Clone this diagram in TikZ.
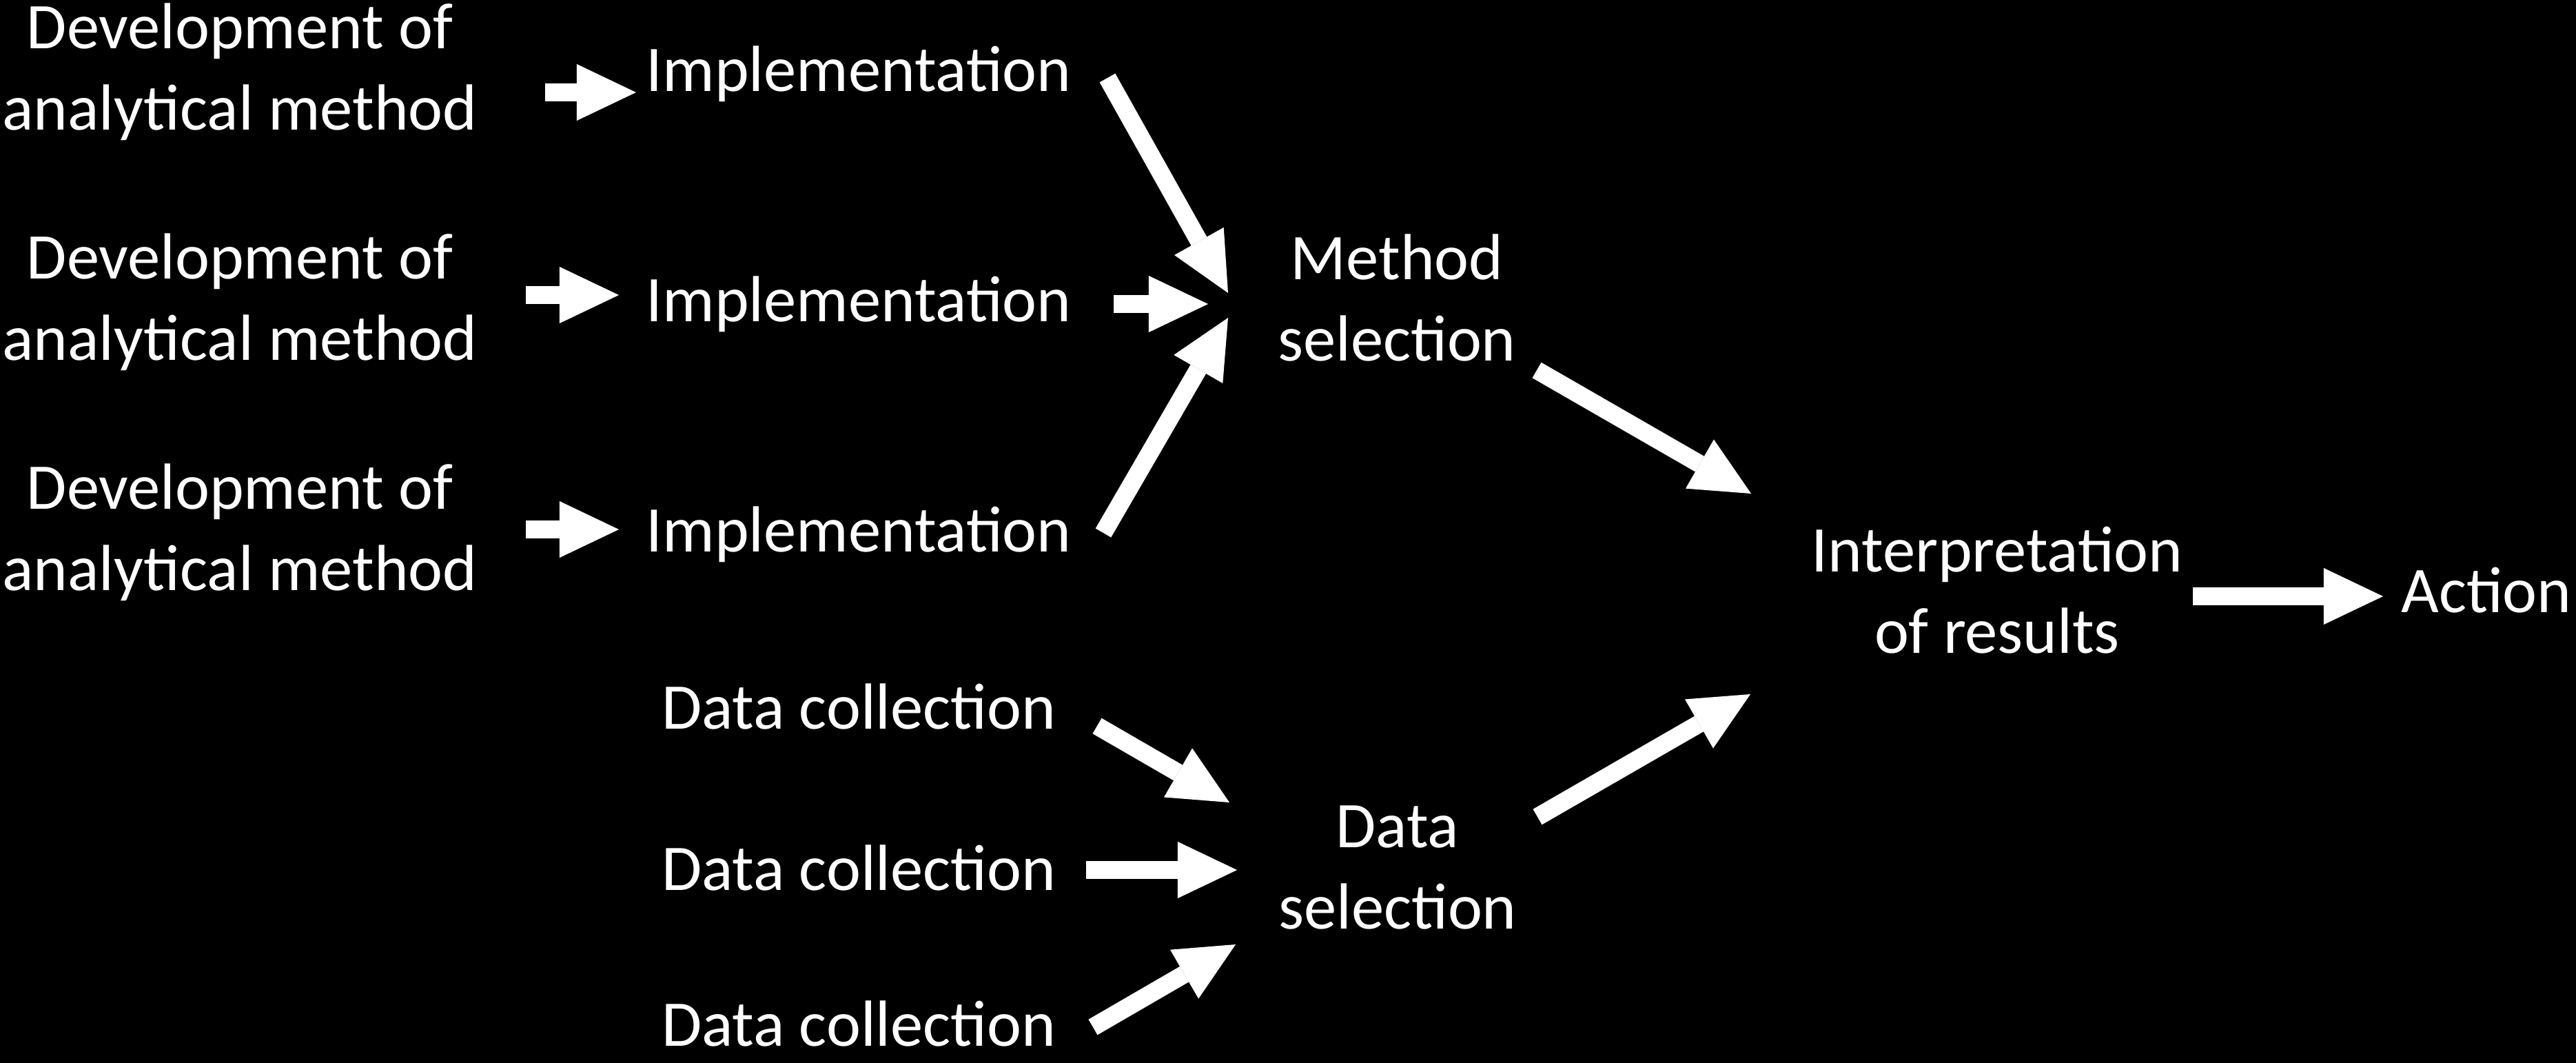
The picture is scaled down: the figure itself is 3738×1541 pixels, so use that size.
\documentclass[tikz,border=0pt]{standalone}
\usepackage{fontspec}
\setmainfont{Carlito}
\usetikzlibrary{arrows.meta}
\begin{document}
\begin{tikzpicture}[x=0.01cm,y=-0.01cm,
  lbl/.style={text=white, inner sep=0pt, font=\fontsize{26.9pt}{33.6pt}\selectfont},
  one/.style={lbl, anchor=base},
  two/.style={lbl, align=center, anchor=center},
  blk/.style={draw=white, line width=0.26cm, line cap=butt,
    -{Triangle[width=0.82cm,length=0.86cm,line width=0pt]}}]
% canvas
\useasboundingbox (0,0) rectangle (3738,1541);
\fill[black] (-20,-20) rectangle (3758,1561);

% method branch
\node[two] (dev1) at (348,106) {\strut Development of\\\strut analytical method};
\node[two] (dev2) at (348,440) {\strut Development of\\\strut analytical method};
\node[two] (dev3) at (348,774) {\strut Development of\\\strut analytical method};
\node[one] (impl1) at (1246,132) {Implementation};
\node[one] (impl2) at (1246,466) {Implementation};
\node[one] (impl3) at (1246,800) {Implementation};
\node[two] (msel) at (2027,441) {\strut Method\\\strut selection};

% data branch
\node[one] (dc1) at (1246,1057) {Data collection};
\node[one] (dc2) at (1246,1291) {Data collection};
\node[one] (dc3) at (1246,1517) {Data collection};
\node[two] (dsel) at (2028,1265) {\strut Data\\\strut selection};

% outcome
\node[two] (interp) at (2898,865) {\strut Interpretation\\\strut of results};
\node[one] (action) at (3608,888) {Action};

% arrow end points
\coordinate (dev1-o) at (791,134);   \coordinate (impl1-i) at (923,134);
\coordinate (dev2-o) at (763,428);   \coordinate (impl2-i) at (898,428);
\coordinate (dev3-o) at (763,768);   \coordinate (impl3-i) at (898,768);
\coordinate (impl1-o) at (1607,113); \coordinate (msel-i1) at (1782,425);
\coordinate (impl2-o) at (1616,441); \coordinate (msel-i2) at (1753,441);
\coordinate (impl3-o) at (1601,773); \coordinate (msel-i3) at (1782,461);
\coordinate (msel-o) at (2230,537);  \coordinate (interp-i1) at (2541,716);
\coordinate (dc1-o) at (1592,1053);  \coordinate (dsel-i1) at (1784,1164);
\coordinate (dc2-o) at (1576,1262);  \coordinate (dsel-i2) at (1795,1262);
\coordinate (dc3-o) at (1586,1490);  \coordinate (dsel-i3) at (1793,1370);
\coordinate (dsel-o) at (2231,1185); \coordinate (interp-i2) at (2540,1007);
\coordinate (interp-o) at (3182,865); \coordinate (action-i) at (3458,865);

% block arrows
\draw[blk] (dev1-o) -- (impl1-i);
\draw[blk] (dev2-o) -- (impl2-i);
\draw[blk] (dev3-o) -- (impl3-i);
\draw[blk] (impl1-o) -- (msel-i1);
\draw[blk] (impl2-o) -- (msel-i2);
\draw[blk] (impl3-o) -- (msel-i3);
\draw[blk] (msel-o) -- (interp-i1);
\draw[blk] (dc1-o) -- (dsel-i1);
\draw[blk] (dc2-o) -- (dsel-i2);
\draw[blk] (dc3-o) -- (dsel-i3);
\draw[blk] (dsel-o) -- (interp-i2);
\draw[blk] (interp-o) -- (action-i);
\end{tikzpicture}
\end{document}
